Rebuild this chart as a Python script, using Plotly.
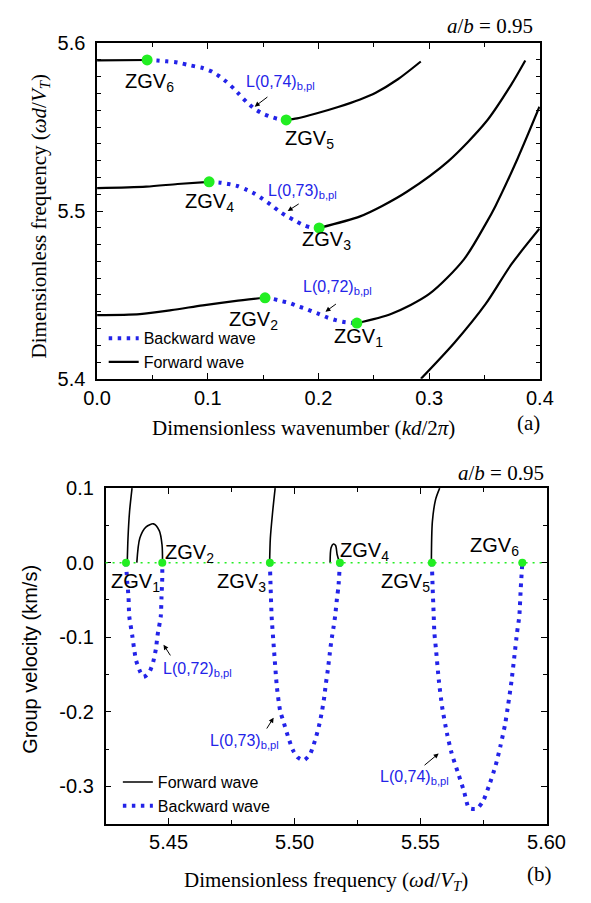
import plotly.graph_objects as go

W, H = 591, 903
BLUE = "#2323e8"
GREEN = "#22ee22"
SANS = "Liberation Sans, Arial, sans-serif"
SERIF = "Liberation Serif, Times New Roman, serif"

# ---------------- (a) dispersion curves: k (kd/2pi) vs frequency (wd/VT) ----------------
fw6_k = [0.0, 0.0452]
fw6_f = [5.5898, 5.5900]
bw65_k = [0.0452, 0.0543, 0.0628, 0.0699, 0.077, 0.0841, 0.0955, 0.1026, 0.1097, 0.1168,
          0.1239, 0.1282, 0.1353, 0.1424, 0.1495, 0.1566, 0.1637, 0.1708]
bw65_f = [5.5900, 5.5897, 5.5892, 5.5888, 5.5879, 5.5868, 5.5852, 5.5834, 5.5806, 5.5770,
          5.5727, 5.5697, 5.5648, 5.5608, 5.5581, 5.5562, 5.5548, 5.5543]
fw5_k = [0.1708, 0.1807, 0.1978, 0.2177, 0.2376, 0.2517, 0.2717, 0.2924]
fw5_f = [5.5543, 5.5552, 5.5581, 5.5620, 5.5665, 5.5705, 5.5785, 5.5891]

fw4_k = [0.0, 0.0443, 0.0727, 0.1012]
fw4_f = [5.5136, 5.5145, 5.5161, 5.5174]
bw43_k = [0.1012, 0.1111, 0.1188, 0.1268, 0.1338, 0.1424, 0.1495, 0.1566, 0.1637, 0.1708,
          0.1773, 0.1850, 0.1921, 0.2006]
bw43_f = [5.5174, 5.5169, 5.5161, 5.5149, 5.5130, 5.5103, 5.5072, 5.5039, 5.5002, 5.4971,
          5.4948, 5.4921, 5.4904, 5.4899]
fw3_k = [0.2006, 0.2376, 0.2575, 0.2802, 0.3171, 0.3512, 0.3740, 0.3868]
fw3_f = [5.4899, 5.4968, 5.5030, 5.5116, 5.5296, 5.5530, 5.5752, 5.5897]

fw2_k = [0.0, 0.0386, 0.0670, 0.0955, 0.1239, 0.1517]
fw2_f = [5.4380, 5.4386, 5.4409, 5.4438, 5.4463, 5.4483]
bw21_k = [0.1517, 0.1594, 0.1665, 0.1737, 0.1807, 0.1878, 0.1950, 0.2006, 0.2078, 0.2148,
          0.2219, 0.2291, 0.2347]
bw21_f = [5.4483, 5.4475, 5.4463, 5.4452, 5.4434, 5.4419, 5.4400, 5.4386, 5.4366, 5.4351,
          5.4340, 5.4334, 5.4332]
fw1_k = [0.2347, 0.2660, 0.3001, 0.3314, 0.3512, 0.3598, 0.3797, 0.3996]
fw1_f = [5.4332, 5.4388, 5.4506, 5.4712, 5.4925, 5.5029, 5.5310, 5.5621]

fw0_k = [0.2925, 0.3228, 0.3512, 0.3740, 0.3996]
fw0_f = [5.4000, 5.4215, 5.4448, 5.4680, 5.4894]

zgv_k = [0.2347, 0.1517, 0.2006, 0.1012, 0.1708, 0.0452]
zgv_fa = [5.4332, 5.4483, 5.4899, 5.5174, 5.5543, 5.5900]

# ---------------- (b) group velocity vs frequency ----------------
zgv_fb = [5.4331, 5.4475, 5.4902, 5.5180, 5.5545, 5.5904]
zgv_v = [0.0, 0.0, 0.0, 0.0, 0.0, 0.0]

gf1_f = [5.4336, 5.4339, 5.4345, 5.4355]
gf1_v = [0.0, 0.033, 0.068, 0.100]
gloop2_f = [5.4374, 5.4386, 5.4411, 5.4440, 5.4463, 5.4474, 5.4476]
gloop2_v = [0.0, 0.033, 0.048, 0.052, 0.043, 0.024, 0.0]
gf3_f = [5.4901, 5.4904, 5.4913, 5.4923]
gf3_v = [0.0, 0.033, 0.068, 0.100]
gloop4_f = [5.5141, 5.5145, 5.5154, 5.5163, 5.5169, 5.5179]
gloop4_v = [0.0, 0.020, 0.025, 0.023, 0.011, 0.0]
gf5_f = [5.5543, 5.5547, 5.5560, 5.5576]
gf5_v = [0.0, 0.055, 0.085, 0.100]

gb72_f = [5.4331, 5.4336, 5.4341, 5.4344, 5.4356, 5.4363, 5.4371, 5.4387, 5.4400, 5.4412,
          5.4425, 5.4439, 5.4450, 5.4456, 5.4469, 5.4472, 5.4475, 5.4475]
gb72_v = [0.0, -0.026, -0.046, -0.072, -0.098, -0.115, -0.131, -0.146, -0.153, -0.151,
          -0.146, -0.133, -0.115, -0.098, -0.072, -0.046, -0.020, 0.0]
gb73_f = [5.4902, 5.4905, 5.4909, 5.4918, 5.4930, 5.4943, 5.4955, 5.4974, 5.4993, 5.5012,
          5.5037, 5.5061, 5.5074, 5.5086, 5.5099, 5.5109, 5.5118, 5.5124, 5.5132, 5.5139,
          5.5146, 5.5155, 5.5161, 5.5169, 5.5174, 5.5180]
gb73_v = [0.0, -0.033, -0.072, -0.115, -0.167, -0.199, -0.212, -0.233, -0.251, -0.261,
          -0.265, -0.257, -0.246, -0.233, -0.216, -0.199, -0.180, -0.163, -0.144, -0.124,
          -0.105, -0.086, -0.072, -0.046, -0.033, 0.0]
gb74_f = [5.5545, 5.5548, 5.5552, 5.5555, 5.5561, 5.5573, 5.5586, 5.5605, 5.5623, 5.5648,
          5.5673, 5.5692, 5.5723, 5.5748, 5.5773, 5.5798, 5.5817, 5.5836, 5.5848, 5.5861,
          5.5873, 5.5883, 5.5892, 5.5898, 5.5904]
gb74_v = [0.0, -0.033, -0.068, -0.094, -0.115, -0.159, -0.194, -0.229, -0.255, -0.281,
          -0.307, -0.329, -0.330, -0.320, -0.298, -0.272, -0.246, -0.216, -0.190, -0.159,
          -0.124, -0.094, -0.072, -0.033, 0.0]

# ---------------- ticks ----------------
xa_ticks = [0.0, 0.1, 0.2, 0.3, 0.4]
xa_text = ["0.0", "0.1", "0.2", "0.3", "0.4"]
xa_minor = [0.05, 0.15, 0.25, 0.35]
ya_ticks = [5.4, 5.5, 5.6]
ya_text = ["5.4", "5.5", "5.6"]
ya_minor = [5.41, 5.42, 5.43, 5.44, 5.45, 5.46, 5.47, 5.48, 5.49,
            5.51, 5.52, 5.53, 5.54, 5.55, 5.56, 5.57, 5.58, 5.59]
xb_ticks = [5.45, 5.50, 5.55, 5.60]
xb_text = ["5.45", "5.50", "5.55", "5.60"]
xb_minor = [5.425, 5.475, 5.525, 5.575]
yb_ticks = [-0.3, -0.2, -0.1, 0.0, 0.1]
yb_text = ["-0.3", "-0.2", "-0.1", "0.0", "0.1"]
yb_minor = [-0.35, -0.25, -0.15, -0.05, 0.05]

fig = go.Figure()

def solid(x, y, xa, ya, width, name=None, legend=None, rank=None):
    fig.add_trace(go.Scatter(x=x, y=y, xaxis=xa, yaxis=ya, mode="lines",
                             line=dict(color="black", width=width, shape="spline", smoothing=0.8),
                             name=name or "Forward wave", showlegend=name is not None,
                             legend=legend or "legend", legendrank=rank or 1000,
                             hoverinfo="skip"))

def dotted(x, y, xa, ya, width, name=None, legend=None, rank=None):
    fig.add_trace(go.Scatter(x=x, y=y, xaxis=xa, yaxis=ya, mode="lines",
                             line=dict(color=BLUE, width=width, dash="3.5px,5.5px",
                                       shape="spline", smoothing=0.6),
                             name=name or "Backward wave", showlegend=name is not None,
                             legend=legend or "legend", legendrank=rank or 1000,
                             hoverinfo="skip"))

# (a)
dotted(bw65_k, bw65_f, "x", "y", 4, "Backward wave", "legend", 1)
dotted(bw43_k, bw43_f, "x", "y", 4)
dotted(bw21_k, bw21_f, "x", "y", 4)
solid(fw6_k, fw6_f, "x", "y", 2.2, "Forward wave", "legend", 2)
for kx, fy in [(fw5_k, fw5_f), (fw4_k, fw4_f), (fw3_k, fw3_f), (fw2_k, fw2_f),
               (fw1_k, fw1_f), (fw0_k, fw0_f)]:
    solid(kx, fy, "x", "y", 2.2)
fig.add_trace(go.Scatter(x=zgv_k, y=zgv_fa, xaxis="x", yaxis="y", mode="markers",
                         marker=dict(color=GREEN, size=11), showlegend=False, hoverinfo="skip"))

# (b)
fig.add_shape(type="line", xref="x2 domain", yref="y2", x0=0, x1=1, y0=0, y1=0,
              line=dict(color=GREEN, width=1.5, dash="2px,5px"))
solid(gf1_f, gf1_v, "x2", "y2", 1.6, "Forward wave", "legend2", 1)
for fx, vy in [(gloop2_f, gloop2_v), (gf3_f, gf3_v), (gloop4_f, gloop4_v), (gf5_f, gf5_v)]:
    solid(fx, vy, "x2", "y2", 1.6)
dotted(gb72_f, gb72_v, "x2", "y2", 4, "Backward wave", "legend2", 2)
dotted(gb73_f, gb73_v, "x2", "y2", 4)
dotted(gb74_f, gb74_v, "x2", "y2", 4)
fig.add_trace(go.Scatter(x=zgv_fb, y=zgv_v, xaxis="x2", yaxis="y2", mode="markers",
                         marker=dict(color=GREEN, size=8), showlegend=False, hoverinfo="skip"))

tickfont = dict(family=SANS, size=20, color="black")
def axis(domain, rng, tv, tt, minor, anchor, standoff):
    return dict(domain=domain, range=rng, tickmode="array", tickvals=tv, ticktext=tt,
                ticks="inside", ticklen=6, tickwidth=1.2, tickcolor="black",
                minor=dict(tickmode="array", tickvals=minor, ticks="inside", ticklen=4,
                           tickwidth=1.2, tickcolor="black"),
                showline=True, linecolor="black", linewidth=1.5, mirror="ticks",
                showgrid=False, zeroline=False, tickfont=tickfont, anchor=anchor,
                ticklabelstandoff=standoff, fixedrange=True)

fig.update_layout(
    width=W, height=H, margin=dict(l=0, r=0, t=0, b=0),
    paper_bgcolor="white", plot_bgcolor="white",
    xaxis=axis([88 / W, 557 / W], [0, 0.4], xa_ticks, xa_text, xa_minor, "y", 0),
    yaxis=axis([1 - 377 / H, 1 - 33 / H], [5.4, 5.6], ya_ticks, ya_text, ya_minor, "x", 6),
    xaxis2=axis([97 / W, 564 / W], [5.425, 5.60], xb_ticks, xb_text, xb_minor, "y2", 0),
    yaxis2=axis([1 - 833 / H, 1 - 489 / H], [-0.35, 0.1], yb_ticks, yb_text, yb_minor, "x2", 6),
    legend=dict(x=95 / W, y=1 - 318 / H, xanchor="left", yanchor="top",
                bgcolor="rgba(0,0,0,0)", font=dict(family=SANS, size=16, color="black"),
                tracegroupgap=0, itemwidth=30),
    legend2=dict(x=110 / W, y=1 - 773 / H, xanchor="left", yanchor="top",
                 bgcolor="rgba(0,0,0,0)", font=dict(family=SANS, size=16, color="black"),
                 tracegroupgap=0, itemwidth=30),
    showlegend=True,
)

ann = []
def ptext(px, py, text, font, xanchor="center", yanchor="middle", angle=0):
    ann.append(dict(x=px / W, y=1 - py / H, xref="paper", yref="paper", text=text,
                    showarrow=False, font=font, xanchor=xanchor, yanchor=yanchor,
                    textangle=angle))

serif = dict(family=SERIF, size=21, color="black")
ptext(504, 15, "<i>a</i>/<i>b</i> = 0.95", serif)
ptext(516, 474, "<i>a</i>/<i>b</i> = 0.95", serif)
ptext(307, 427, "Dimensionless wavenumber (<i>kd</i>/2<i>π</i>)", serif)
ptext(545, 422, "(a)", serif)
ptext(27, 210, "Dimensionless frequency (<i>ωd</i>/<i>V</i><sub><i>T</i></sub>)", serif, angle=-90)
ptext(330, 892, "Dimensionless frequency (<i>ωd</i>/<i>V</i><sub><i>T</i></sub>)", serif)
ptext(557, 885, "(b)", serif)
ptext(17, 665, "Group velocity (km/s)", dict(family=SANS, size=20, color="black"), angle=-90)

zfont = dict(family=SANS, size=20, color="black")
bfont = dict(family=SANS, size=16, color=BLUE)

def dtext(x, y, text, font, xr, yr):
    ann.append(dict(x=x, y=y, xref=xr, yref=yr, text=text, showarrow=False, font=font,
                    xanchor="left", yanchor="middle"))

def arrow(xh, yh, xt, yt, xr, yr):
    ann.append(dict(x=xh, y=yh, ax=xt, ay=yt, xref=xr, yref=yr, axref=xr, ayref=yr,
                    text="", showarrow=True, arrowhead=2, arrowsize=1, arrowwidth=1,
                    arrowcolor="black"))

# (a) labels
for x, y, n in [(0.0230, 5.5765, 6), (0.1680, 5.5426, 5), (0.0780, 5.5048, 4),
                (0.1830, 5.4825, 3), (0.1175, 5.4350, 2), (0.2120, 5.4244, 1)]:
    dtext(x, y, "ZGV<sub>%d</sub>" % n, zfont, "x", "y")
for x, y, n in [(0.1330, 5.5765, 74), (0.1525, 5.5118, 73), (0.1840, 5.4546, 72)]:
    dtext(x, y, "L(0,%d)<sub>b,pl</sub>" % n, bfont, "x", "y")
arrow(0.1424, 5.5622, 0.1552, 5.5686, "x", "y")
arrow(0.1722, 5.5000, 0.1835, 5.5048, "x", "y")
arrow(0.2063, 5.4400, 0.2171, 5.4452, "x", "y")

# (b) labels
for x, y, n in [(5.4262, -0.0265, 1), (5.4478, 0.0128, 2), (5.4684, -0.0265, 3),
                (5.5174, 0.0149, 4), (5.5334, -0.0265, 5), (5.5690, 0.0215, 6)]:
    dtext(x, y, "ZGV<sub>%d</sub>" % n, zfont, "x2", "y2")
for x, y, n in [(5.4470, -0.1436, 72), (5.4655, -0.2395, 73), (5.5330, -0.2874, 74)]:
    dtext(x, y, "L(0,%d)<sub>b,pl</sub>" % n, bfont, "x2", "y2")
arrow(5.4480, -0.110, 5.4511, -0.1264, "x2", "y2")
arrow(5.4917, -0.2078, 5.4886, -0.2244, "x2", "y2")
arrow(5.5572, -0.2558, 5.5510, -0.2732, "x2", "y2")

fig.update_layout(annotations=ann)
fig.write_html("out.html")
